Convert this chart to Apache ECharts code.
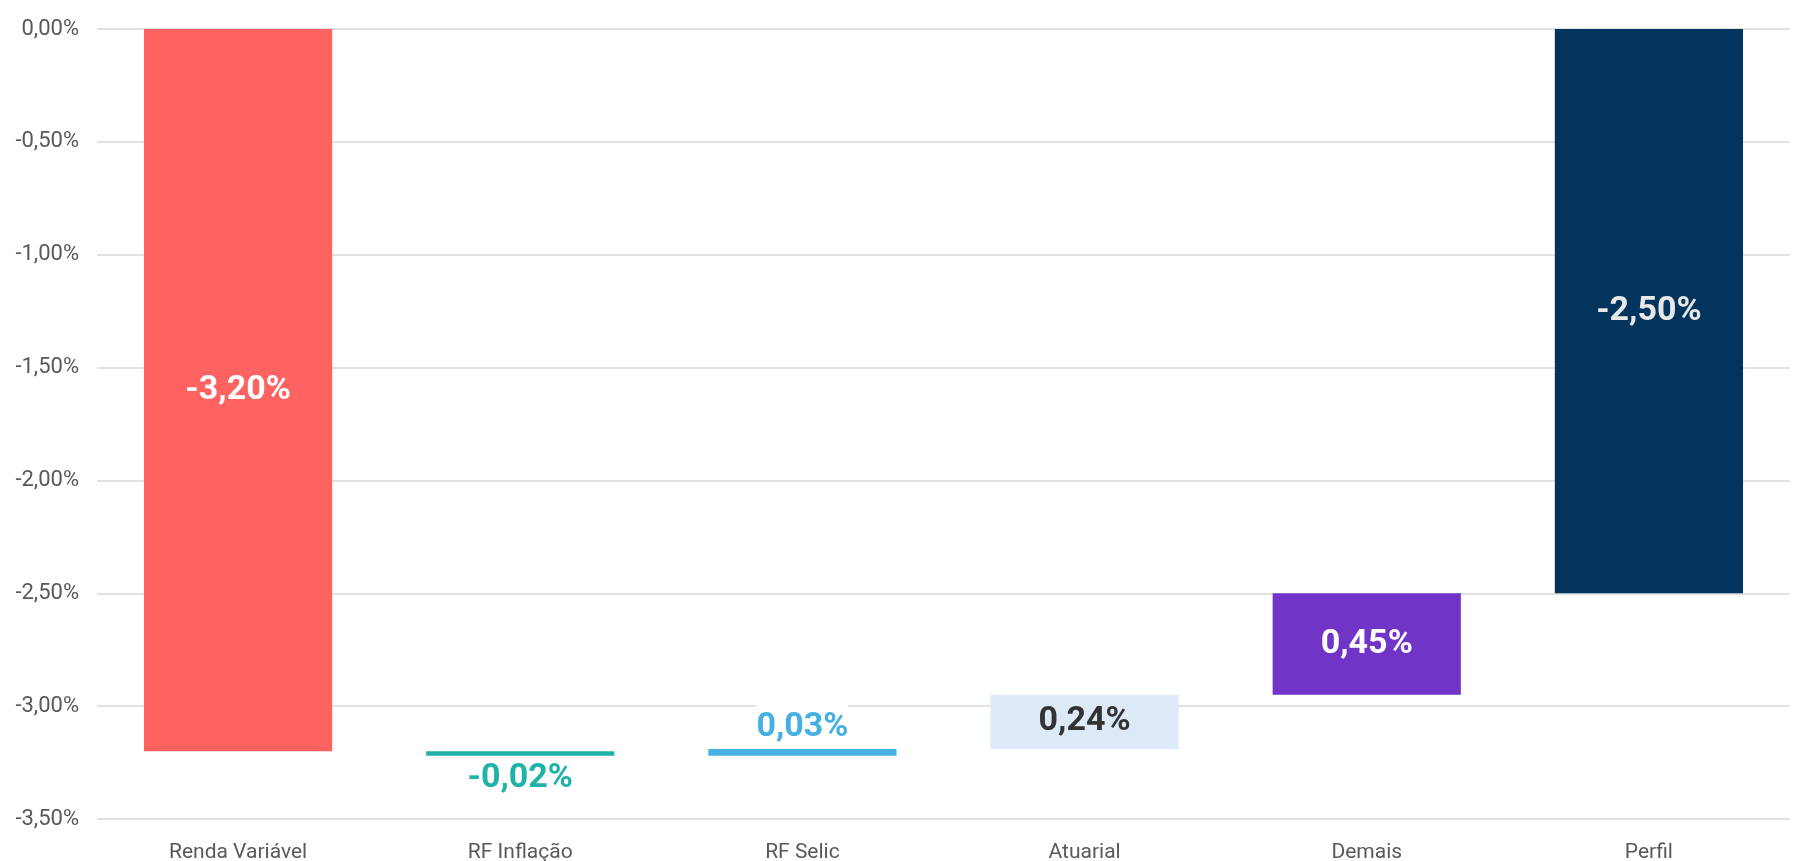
<!DOCTYPE html>
<html>
<head>
<meta charset="utf-8">
<script src="https://cdn.jsdelivr.net/npm/echarts@6/dist/echarts.min.js"></script>
<style>
  html, body { margin: 0; padding: 0; background: #fff; }
  #chart { width: 1794px; height: 861px; }
</style>
</head>
<body>
<div id="chart"></div>
<script>
const categories = ['Renda Variável', 'RF Inflação', 'RF Selic', 'Atuarial', 'Demais', 'Perfil'];
const deltas = [-3.20, -0.02, 0.03, 0.24, 0.45, -2.50];
const isTotal = [false, false, false, false, false, true];
const barColors = ['#FF6361', '#1FB2A9', '#45B0E1', '#DCEAF7', '#7035C7', '#03345E'];
const labelColors = ['#FFFFFF', '#1FB2A9', '#45B0E1', '#333333', '#FFFFFF', '#E8E8E8'];
const labelPositions = ['inside', 'bottom', 'top', 'inside', 'inside', 'inside'];

const fmt = v => v.toFixed(2).replace('.', ',') + '%';

// waterfall: hidden base + visible piece, both stacked on the negative side
let running = 0;
const baseData = [];
const pieceData = [];
deltas.forEach((d, i) => {
  let start = running, end = running + d;
  if (isTotal[i]) { start = 0; end = d; }
  else running = end;
  const top = Math.max(start, end);
  const bottom = Math.min(start, end);
  baseData.push(+top.toFixed(4));
  const label = {
    show: true,
    position: labelPositions[i],
    color: labelColors[i],
    fontSize: 34,
    fontWeight: 'bold',
    fontFamily: 'Roboto, sans-serif',
    formatter: () => fmt(d),
  };
  if (labelPositions[i] === 'top') {
    label.backgroundColor = '#FFFFFF';
    label.padding = [6, 0, 0, 0];
    label.distance = 5;
  }
  if (labelPositions[i] === 'bottom') label.distance = 6;
  pieceData.push({
    value: +(bottom - top).toFixed(4),
    itemStyle: { color: barColors[i] },
    label,
  });
});

const chart = echarts.init(document.getElementById('chart'));

chart.setOption({
  animation: false,
  backgroundColor: '#FFFFFF',
  grid: { left: 97, right: 4, top: 29, bottom: 42, outerBoundsMode: 'none' },
  xAxis: {
    type: 'category',
    data: categories,
    position: 'bottom',
    axisLine: { show: false, onZero: false },
    axisTick: { show: false },
    axisLabel: {
      margin: 23,
      color: '#595959',
      fontSize: 21,
      fontFamily: 'Roboto, sans-serif',
    },
  },
  yAxis: {
    type: 'value',
    min: -3.5,
    max: 0,
    interval: 0.5,
    axisLine: { show: false },
    axisTick: { show: false },
    axisLabel: {
      margin: 18,
      color: '#595959',
      fontSize: 22,
      fontFamily: 'Roboto, sans-serif',
      formatter: v => fmt(v),
    },
    splitLine: { lineStyle: { color: '#D9D9D9', width: 1.5 } },
  },
  series: [
    {
      name: 'base',
      type: 'bar',
      stack: 'wf',
      barWidth: '66.7%',
      silent: true,
      itemStyle: { color: 'transparent' },
      data: baseData,
    },
    {
      name: 'valor',
      type: 'bar',
      stack: 'wf',
      barWidth: '66.7%',
      data: pieceData,
    },
  ],
});

window.addEventListener('resize', () => chart.resize());
</script>
</body>
</html>
